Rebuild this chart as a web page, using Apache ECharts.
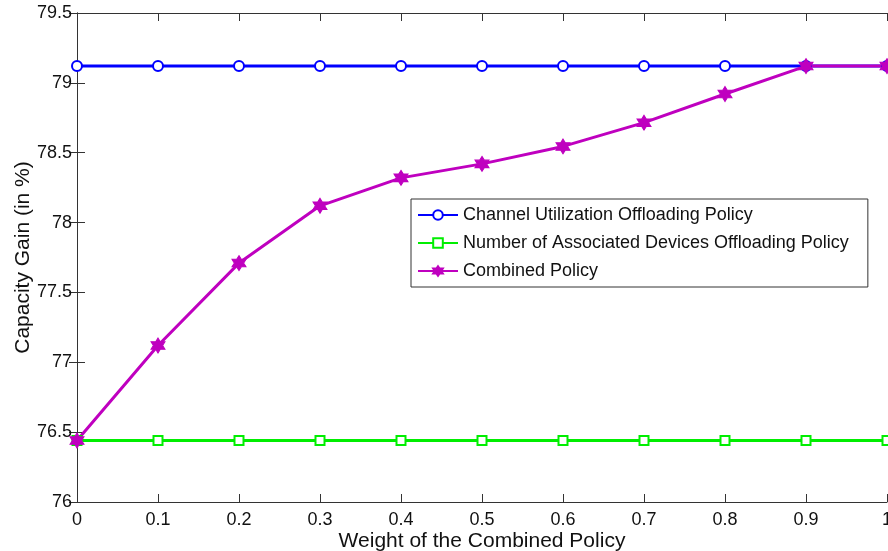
<!DOCTYPE html>
<html>
<head>
<meta charset="utf-8">
<script src="https://cdn.jsdelivr.net/npm/echarts@6/dist/echarts.min.js"></script>
<style>html,body{margin:0;padding:0;background:#fff;}#c{width:888px;height:551px;}</style>
</head>
<body>
<div id="c"></div>
<script>
var weights = [0, 0.1, 0.2, 0.3, 0.4, 0.5, 0.6, 0.7, 0.8, 0.9, 1.0];
var channelUtil = [79.12, 79.12, 79.12, 79.12, 79.12, 79.12, 79.12, 79.12, 79.12, 79.12, 79.12];
var numDevices = [76.44, 76.44, 76.44, 76.44, 76.44, 76.44, 76.44, 76.44, 76.44, 76.44, 76.44];
var combined = [76.44, 77.12, 77.71, 78.12, 78.32, 78.42, 78.545, 78.715, 78.92, 79.12, 79.12];
var seriesNames = ['Channel Utilization Offloading Policy', 'Number of Associated Devices Offloading Policy', 'Combined Policy'];
var xTitle = 'Weight of the Combined Policy';
var yTitle = 'Capacity Gain (in %)';

function pairs(ys){ return weights.map(function(x,i){ return [x, ys[i]]; }); }
var font = 'Liberation Sans, Arial, Helvetica, sans-serif';
var hexagram = 'path://M100 0 L128.9 50 L186.6 50 L157.7 100 L186.6 150 L128.9 150 L100 200 L71.1 150 L13.4 150 L42.3 100 L13.4 50 L71.1 50 Z';

var chart = echarts.init(document.getElementById('c'), null, {renderer:'canvas'});
var axisLine = {show:true, lineStyle:{color:'#333', width:1}};
var tick = {show:true, inside:true, length:8, lineStyle:{color:'#333'}};
chart.setOption({
  animation:false,
  backgroundColor:'#fff',
  grid:{left:77, right:1, top:13, bottom:49, containLabel:false, outerBoundsMode:'none'},
  xAxis:[{
    type:'value', min:0, max:1, interval:0.1, position:'bottom',
    name:xTitle, nameLocation:'middle', nameGap:29, nameMoveOverlap:false,
    nameTextStyle:{fontFamily:font, fontSize:21, color:'#111'},
    axisLine:axisLine, axisTick:tick, splitLine:{show:false},
    axisLabel:{fontFamily:font, fontSize:18, color:'#111', margin:9, showMaxLabel:true, showMinLabel:true}
  },{
    type:'value', min:0, max:1, interval:0.1, position:'top',
    axisLine:axisLine, axisTick:tick, splitLine:{show:false}, axisLabel:{show:false}
  }],
  yAxis:[{
    type:'value', min:76, max:79.5, interval:0.5, position:'left',
    name:yTitle, nameLocation:'middle', nameGap:43, nameRotate:90, nameMoveOverlap:false,
    nameTextStyle:{fontFamily:font, fontSize:21, color:'#111'},
    axisLine:axisLine, axisTick:tick, splitLine:{show:false},
    axisLabel:{fontFamily:font, fontSize:18, color:'#111', margin:5}
  },{
    type:'value', min:76, max:79.5, interval:0.5, position:'right',
    axisLine:axisLine, axisTick:tick, splitLine:{show:false}, axisLabel:{show:false}
  }],
  legend:{
    left:411, top:199, orient:'vertical',
    backgroundColor:'#fff', borderColor:'#333', borderWidth:1,
    padding:[7, 19, 7, 6], itemGap:10, itemWidth:40, itemHeight:12,
    textStyle:{fontFamily:font, fontSize:18, color:'#111'},
    data:seriesNames
  },
  series:[{
    name:seriesNames[0], type:'line', data:pairs(channelUtil),
    symbol:'emptyCircle', symbolSize:10,
    lineStyle:{color:'#0000ff', width:3},
    itemStyle:{color:'#0000ff', borderColor:'#0000ff', borderWidth:3}
  },{
    name:seriesNames[1], type:'line', data:pairs(numDevices),
    symbol:'emptyRect', symbolSize:9,
    lineStyle:{color:'#00ee00', width:3},
    itemStyle:{color:'#00ee00', borderColor:'#00ee00', borderWidth:3}
  },{
    name:seriesNames[2], type:'line', data:pairs(combined),
    symbol:hexagram, symbolSize:[14,15],
    lineStyle:{color:'#bf00bf', width:3},
    itemStyle:{color:'#bf00bf', borderColor:'#bf00bf', borderWidth:1}
  }]
});
</script>
</body>
</html>
